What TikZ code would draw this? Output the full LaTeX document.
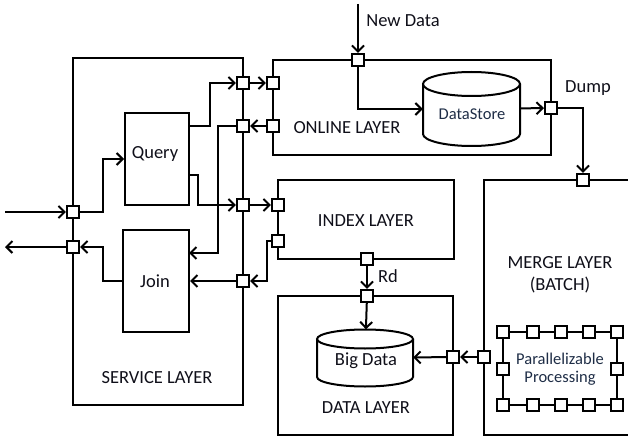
\documentclass[tikz,border=0pt]{standalone}
\usepackage{fontspec}
\setmainfont{Carlito}
\usetikzlibrary{arrows.meta}
\definecolor{ink}{RGB}{15,15,25}
\definecolor{inkblue}{RGB}{30,45,70}
\tikzset{
  wire/.style={line width=2pt},
  arr/.style={wire,-{Straight Barb[length=6pt,width=12pt,line width=2pt]}},
  layer/.style={draw,line width=2pt,rectangle,inner sep=0pt},
  port/.style={draw,fill=white,rectangle,line width=1.7pt,minimum size=12.5pt,inner sep=0pt},
  lbl/.style={font=\fontsize{18.5}{20}\selectfont,text=ink,inner sep=0pt},
  slbl/.style={font=\fontsize{16.5}{20}\selectfont,text=inkblue,inner sep=0pt,align=center},
  store/.style={rectangle,inner sep=0pt},
}
\begin{document}
\begin{tikzpicture}[x=1pt,y=-1pt]
\useasboundingbox (0,0) rectangle (628,438);
\clip (0,0) rectangle (628,438);

% layer boxes
\node[layer,minimum width=170pt,minimum height=347pt] (service) at (158,231.5) {};
\node[layer,minimum width=64pt,minimum height=92pt] (query) at (157,159) {};
\node[layer,minimum width=66pt,minimum height=102pt] (join) at (156,281) {};
\node[layer,minimum width=278pt,minimum height=95pt] (online) at (412,107.5) {};
\node[layer,minimum width=176pt,minimum height=79pt] (index) at (366,219.5) {};
\node[layer,minimum width=175pt,minimum height=139pt] (datal) at (365.5,365.5) {};
\node[layer,minimum width=180pt,minimum height=255pt] (merge) at (574,307.5) {};

% labels
\node[lbl] (tquery) at (155,154) {Query};
\node[lbl] (tjoin) at (155,281) {Join};
\node[lbl] (tservice) at (157,378) {SERVICE LAYER};
\node[lbl] (tonline) at (347,128) {ONLINE LAYER};
\node[lbl] (tindex) at (366,221) {INDEX LAYER};
\node[lbl] (tdata) at (366,408) {DATA LAYER};
\node[lbl] (tmerge) at (560,263) {MERGE LAYER};
\node[lbl] (tbatch) at (560,285) {(BATCH)};
\node[lbl] (tnew) at (403,21) {New Data};
\node[lbl] (tdump) at (588,88) {Dump};
\node[lbl] (trd) at (388,276) {Rd};

% DataStore cylinder
\node[store,minimum width=97pt,minimum height=74pt] (ds) at (471.5,109) {};
\fill[white] (423,84) -- (423,134) arc[start angle=180,end angle=360,x radius=48.5pt,y radius=12pt] -- (520,84) -- cycle;
\draw[wire] (423,84) -- (423,134) arc[start angle=180,end angle=360,x radius=48.5pt,y radius=12pt] -- (520,84);
\draw[wire,fill=white] (471.5,84) ellipse [x radius=48.5pt,y radius=12pt];
\node[slbl] (tds) at (472,114) {DataStore};

% Big Data cylinder
\node[store,minimum width=96pt,minimum height=57pt] (bd) at (365,358) {};
\draw[wire] (317,339) -- (317,377) arc[start angle=180,end angle=360,x radius=48pt,y radius=9.5pt] -- (413,339);
\draw[wire,fill=white] (365,339) ellipse [x radius=48pt,y radius=9.5pt];
\node[lbl] (tbd) at (366,361) {Big Data};

% ports
\node[port] (sin) at (73,212) {};
\node[port] (sout) at (73,247) {};
\node[port] (s1) at (243,83) {};
\node[port] (s2) at (243,126) {};
\node[port] (s3) at (243,205) {};
\node[port] (s4) at (243,281) {};
\node[port] (o1) at (273,83) {};
\node[port] (o2) at (273,126) {};
\node[port] (otop) at (358,60) {};
\node[port] (oright) at (551,108) {};
\node[port] (i1) at (278,205) {};
\node[port] (i2) at (278,241) {};
\node[port] (ibot) at (367,259) {};
\node[port] (dtop) at (367,296) {};
\node[port] (dright) at (453,357) {};
\node[port] (mtop) at (583,180) {};
\node[port] (mleft) at (484,357) {};

% parallel processing ring
\foreach \i/\x in {1/503,2/533,3/561,4/589,5/617}{
  \node[port] (t\i) at (\x,332) {};
  \node[port] (b\i) at (\x,405) {};
}
\node[port] (rl) at (503,369) {};
\node[port] (rr) at (617,369) {};
\draw[wire] (t1) -- (t2) -- (t3) -- (t4) -- (t5) -- (rr) -- (b5) -- (b4) -- (b3) -- (b2) -- (b1) -- (rl) -- (t1);
\node[slbl] (tpar) at (560,369) {Parallelizable\\[-2pt]Processing};

% bend points
\coordinate (inL) at (5,212);
\coordinate (outL) at (5,247);
\coordinate (newin) at (358,4);
\coordinate (kx1) at (103,0);
\coordinate (kx2) at (210,0);
\coordinate (kx3) at (198,0);
\coordinate (kx4) at (218,0);
\coordinate (kx5) at (267,0);
\coordinate (qhi) at (189,126);
\coordinate (qlo) at (189,175);
\coordinate (jhi) at (189,253);

% connectors: service layer
\draw[arr] (inL) -- (sin);
\draw[arr] (sin) -- (kx1 |- sin) |- (query);
\draw[arr] (qhi) -- (kx2 |- qhi) |- (s1);
\draw[arr] (qlo) -- (kx3 |- qlo) |- (s3);
\draw[arr] (s2) -- (kx4 |- s2) |- (jhi);
\draw[arr] (s4) -- (join);
\draw[arr] (join) -- (kx1 |- join) |- (sout);
\draw[arr] (sout) -- (outL);

% connectors: between layers
\draw[arr] (s1) -- (o1);
\draw[arr] (o2) -- (s2);
\draw[arr] (s3) -- (i1);
\draw[arr] (i2) -- (kx5 |- i2) |- (s4);
\draw[arr] (newin) -- (otop);
\draw[arr] (otop) |- (ds);
\draw[arr] (ds) -- (oright);
\draw[arr] (oright) -| (mtop);
\draw[arr] (ibot) -- (dtop);
\draw[arr] (dtop) -- (bd);
\draw[arr] (mleft) -- (dright);
\draw[arr] (dright) -- (bd);
\end{tikzpicture}
\end{document}
